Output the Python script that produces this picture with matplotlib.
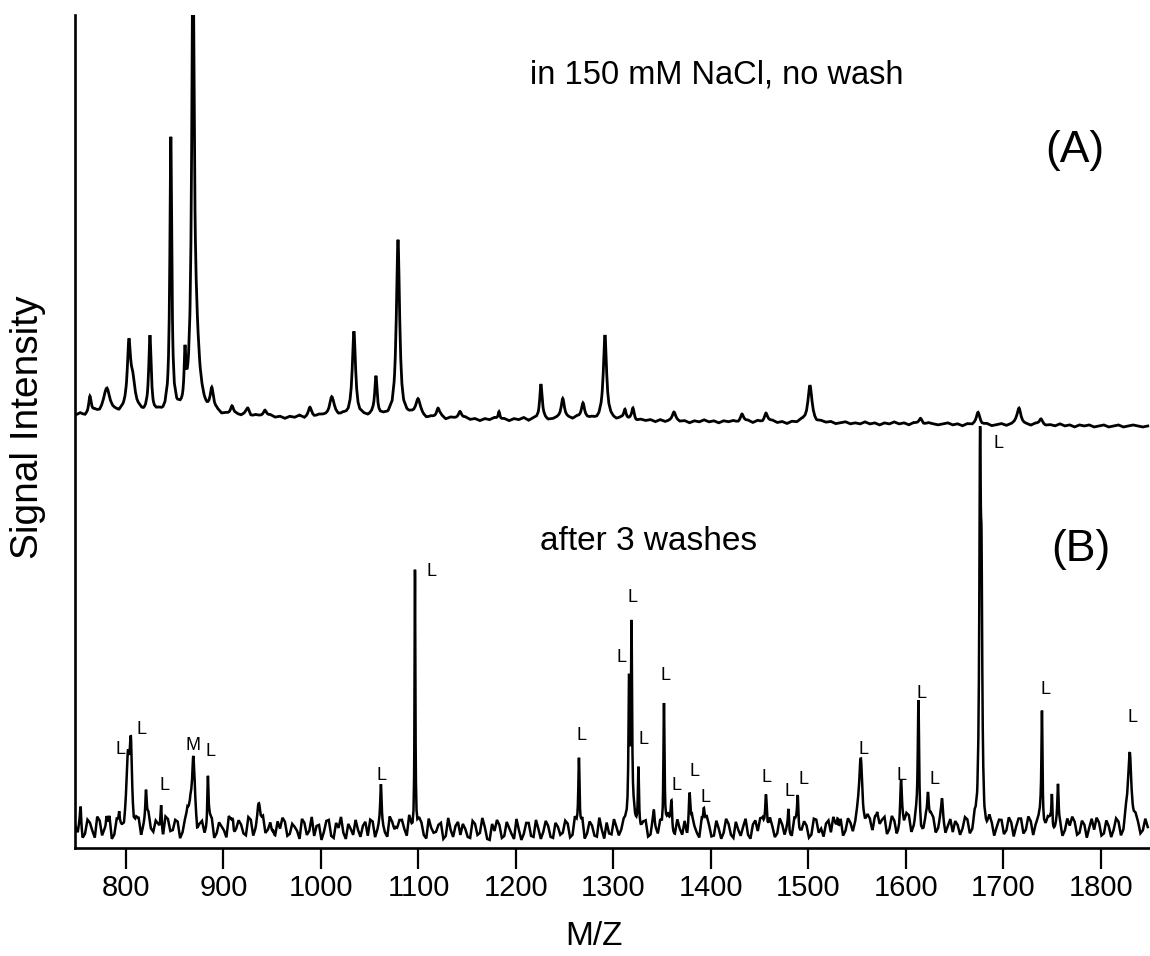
import numpy as np
import matplotlib
matplotlib.use("Agg")
import matplotlib.pyplot as plt

plt.rcParams['font.family'] = ['Liberation Sans', 'DejaVu Sans']

# ---------------- data ----------------
# m/z sampling grid of the noise readings (step 5, 748 .. 1848)
noise_start, noise_step = 748, 5

# spectrum A (150 mM NaCl, no wash): baseline/noise level relative to its own zero
A_noise = [12, 14, 11, 13, 15, 12, 14, 11, 13, 12, 14, 13, 11, 14, 12, 13, 11, 14, 12, 13,
           11, 13, 12, 14, 11, 12, 13, 11, 12, 14, 11, 12, 10, 12, 11, 13, 10, 12, 11, 10,
           12, 10, 11, 9, 11, 10, 12, 9, 11, 10, 12, 11, 9, 11, 10, 12, 10, 11, 9, 11,
           10, 12, 9, 11, 10, 9, 11, 8, 10, 11, 9, 10, 8, 10, 9, 11, 8, 10, 9, 8,
           10, 8, 9, 7, 9, 8, 10, 8, 9, 7, 9, 8, 10, 7, 9, 8, 9, 7, 8, 9,
           7, 9, 8, 10, 7, 8, 9, 7, 8, 6, 8, 7, 9, 7, 8, 6, 8, 7, 8, 6,
           8, 6, 7, 8, 6, 7, 5, 7, 6, 8, 6, 7, 5, 7, 6, 7, 5, 6, 7, 5,
           7, 5, 6, 7, 5, 6, 4, 6, 5, 7, 5, 6, 4, 6, 5, 6, 4, 5, 6, 4,
           5, 4, 6, 4, 5, 3, 5, 4, 6, 4, 5, 3, 5, 4, 3, 5, 4, 3, 4, 5,
           3, 4, 2, 4, 3, 5, 3, 4, 2, 3, 4, 2, 3, 4, 2, 3, 2, 4, 3, 2,
           3, 2, 4, 2, 3, 1, 3, 2, 3, 1, 2, 3, 1, 2, 3, 1, 2, 3, 2, 1,
           2]
A_peak_mz = [763, 780.5, 803, 807, 824.6, 846, 860.5, 868.7, 872, 888, 908.7, 925, 942.6,
             988.7, 1011, 1033.8, 1056.4, 1079, 1099.5, 1120, 1142.6, 1182.6, 1225.6, 1248,
             1268.7, 1291.3, 1311.8, 1320, 1362, 1431.8, 1456.4, 1501.5, 1615, 1674, 1716,
             1738.5]
A_peak_amp = [17, 26, 64, 30, 77, 275, 47, 440, 60, 22, 10, 7, 7,
              9, 20, 85, 40, 177, 18, 9, 8, 8, 35, 22,
              17, 86, 10, 12, 8, 8, 9, 37, 6, 11, 17,
              6]
A_peak_w = [1.5, 4, 2, 3, 1.5, 1.2, 1.0, 1.5, 4, 2, 2, 2, 2,
            2, 3, 2, 1.5, 2, 3, 2, 2, 1, 1.5, 2,
            2, 2, 1.5, 1.5, 2, 2, 2, 2.5, 2, 2, 2.5,
            2]

# spectrum B (after 3 washes): baseline/noise level on the main grid ...
B_noise = [22, 30, 14, 25, 10, 27, 18, 31, 12, 24, 16, 29, 11, 26, 20, 33, 15, 22, 9, 28,
           17, 25, 13, 30, 19, 11, 24, 16, 28, 14, 21, 10, 26, 18, 23, 12, 27, 15, 20, 13,
           24, 11, 19, 26, 14, 21, 9, 25, 17, 12, 23, 16, 28, 10, 20, 15, 24, 13, 18, 22,
           12, 26, 17, 21, 10, 23, 15, 27, 11, 19, 14, 24, 9, 20, 16, 25, 12, 18, 22, 13,
           19, 10, 24, 15, 21, 8, 17, 23, 12, 20, 9, 18, 14, 25, 11, 19, 16, 22, 10, 21,
           15, 24, 12, 19, 27, 14, 22, 11, 18, 25, 13, 20, 16, 23, 10, 21, 17, 26, 12, 19,
           24, 14, 21, 11, 18, 25, 13, 20, 9, 17, 22, 12, 19, 15, 24, 10, 18, 21, 13, 23,
           16, 26, 12, 20, 14, 23, 18, 11, 25, 17, 22, 13, 28, 19, 24, 15, 21, 27, 16, 23,
           20, 29, 17, 25, 14, 22, 30, 18, 26, 15, 23, 31, 19, 27, 16, 24, 29, 18, 25, 21,
           15, 22, 18, 26, 13, 20, 24, 16, 22, 19, 27, 17, 25, 21, 29, 18, 26, 22, 30, 20,
           27, 19, 24, 17, 22, 26, 15, 23, 20, 18, 25, 14, 21, 17, 24, 12, 26, 19, 22, 16,
           20]
# ... and half-way between the main grid points (750.5 .. 1845.5)
B_noise_mid = [15, 9, 28, 17, 31, 12, 22, 8, 27, 19, 33, 14, 24, 10, 29, 18, 26, 13, 30, 16,
               27, 8, 24, 15, 32, 20, 12, 29, 9, 25, 17, 31, 11, 27, 14, 30, 10, 24, 28, 17,
               9, 26, 30, 12, 24, 17, 29, 13, 31, 22, 8, 27, 12, 25, 31, 9, 19, 28, 11, 26,
               28, 10, 25, 14, 30, 9, 26, 18, 31, 8, 27, 12, 29, 15, 23, 9, 30, 11, 26, 24,
               11, 27, 13, 30, 9, 24, 28, 10, 26, 14, 29, 8, 25, 12, 28, 9, 27, 11, 25, 13,
               27, 10, 29, 13, 8, 26, 12, 30, 9, 14, 28, 11, 25, 9, 27, 13, 24, 10, 28, 12,
               10, 29, 8, 27, 12, 9, 28, 14, 26, 30, 11, 27, 9, 29, 13, 26, 12, 29, 9, 27,
               28, 11, 27, 10, 29, 12, 9, 28, 14, 26, 10, 29, 15, 11, 27, 30, 12, 11, 28, 13,
               30, 14, 28, 12, 31, 27, 13, 31, 12, 29, 33, 14, 30, 12, 29, 32, 14, 30, 13, 28,
               26, 12, 29, 11, 27, 30, 12, 28, 10, 27, 13, 30, 11, 29, 14, 31, 12, 28, 15, 29,
               12, 28, 11, 29, 31, 13, 27, 10, 29, 30, 12, 27, 10, 28, 9, 29, 11, 27, 12, 28]
B_peak_mz = [753.5, 780, 793, 802, 805, 820.5, 836, 866, 869, 884, 909.7, 936.4, 950.8,
             1061.5, 1076, 1096.4, 1264.6, 1316, 1318.5, 1325.6, 1341.5, 1351.8, 1359.5,
             1378, 1392.8, 1456.4, 1479.5, 1489, 1530, 1553.8, 1568, 1594.9, 1612.8,
             1622.6, 1637, 1676, 1677.5, 1739.5, 1749.7, 1755.9, 1829.7]
B_peak_amp = [15, 10, 10, 50, 85, 28, 30, 25, 60, 50, 12, 22, 8,
              40, 10, 268, 75, 150, 200, 65, 12, 132, 33,
              42, 22, 42, 26, 32, 15, 65, 15, 42, 120,
              30, 22, 340, 200, 116, 36, 36, 80]
B_peak_w = [0.6, 0.6, 0.6, 1.5, 1.5, 0.8, 0.8, 2, 1.5, 0.7, 1, 2, 1,
            0.8, 2, 0.5, 0.8, 0.8, 0.7, 0.7, 0.7, 0.7, 1,
            1, 1, 1.2, 0.8, 0.8, 1, 2, 1.5, 1, 0.8,
            1, 1, 0.9, 0.9, 0.7, 0.7, 0.7, 2]

# peak annotations in spectrum B: (text, m/z, height)
B_label_text = ['L', 'L', 'L', 'M', 'L', 'L', 'L', 'L', 'L', 'L', 'L', 'L', 'L', 'L', 'L',
                'L', 'L', 'L', 'L', 'L', 'L', 'L', 'L', 'L', 'L']
B_label_mz = [794.5, 815.4, 839, 868.4, 886.9, 1062.3, 1113.5, 1267.2, 1308.7, 1320,
              1330.3, 1353.8, 1365.1, 1382.6, 1394.9, 1457.4, 1481, 1494.4, 1556.4,
              1595.9, 1616.4, 1629.7, 1694.4, 1743.6, 1832.8]
B_label_y = [98, 118, 63, 102, 96, 73, 276, 112, 191, 251,
             108, 173, 63, 76, 51, 71, 56, 68, 98,
             73, 155, 68, 405, 158, 130]

x_ticks = [800, 900, 1000, 1100, 1200, 1300, 1400, 1500, 1600, 1700, 1800]

# ---------------- build traces ----------------
A_noise_mz = noise_start + noise_step * np.arange(len(A_noise))
B_noise_mz_all = np.concatenate([noise_start + noise_step * np.arange(len(B_noise)),
                                 noise_start + noise_step * (np.arange(len(B_noise_mid)) + 0.5)])
B_noise_all = np.concatenate([B_noise, B_noise_mid])
order = np.argsort(B_noise_mz_all)
B_noise_mz_all = B_noise_mz_all[order]
B_noise_all = B_noise_all[order]


def trace(nmz, noise, pmz, pamp, pw):
    offs = np.array([-8, -5, -3, -2, -1.4, -0.9, -0.5, -0.2, 0, 0.2, 0.5, 0.9, 1.4, 2, 3, 5, 8])
    grid = [nmz]
    for m, w in zip(pmz, pw):
        grid.append(m + offs * w)
    x = np.unique(np.concatenate(grid))
    x = x[(x >= nmz[0]) & (x <= nmz[-1])]
    y = np.interp(x, nmz, np.asarray(noise, float))
    for m, a, w in zip(pmz, pamp, pw):
        y = y + a / (1.0 + ((x - m) / w) ** 2)
    return x, y


A_OFFSET = 420
xa, ya = trace(A_noise_mz, A_noise, A_peak_mz, A_peak_amp, A_peak_w)
xb, yb = trace(B_noise_mz_all, B_noise_all, B_peak_mz, B_peak_amp, B_peak_w)

# ---------------- figure ----------------
W, H = 1150, 956
fig = plt.figure(figsize=(W / 100, H / 100), dpi=100)
ax = fig.add_axes([75 / W, 1 - 848 / H, 1075 / W, 833 / H])

ax.plot(xa, ya + A_OFFSET, color='black', lw=2.0, solid_joinstyle='miter')
ax.plot(xb, yb, color='black', lw=1.8, solid_joinstyle='miter')

ax.set_xlim(747.7, 1850.3)
ax.set_ylim(0, 833)

for s in ['top', 'right']:
    ax.spines[s].set_visible(False)
for s in ['left', 'bottom']:
    ax.spines[s].set_linewidth(1.9)
ax.set_yticks([])
ax.set_xticks(x_ticks)
ax.set_xticklabels([str(t) for t in x_ticks])
ax.tick_params(axis='x', direction='out', length=15, width=1.6, pad=4, labelsize=21)

ax.set_xlabel('M/Z', fontsize=24)
ax.xaxis.set_label_coords(0.483, -0.106)
ax.xaxis.label.set_va('center')
ax.set_ylabel('Signal Intensity', fontsize=28)
ax.yaxis.set_label_coords(-0.0437, 0.505)
ax.yaxis.label.set_va('center')

ax.text(1214, 773, 'in 150 mM NaCl, no wash', fontsize=23.5, ha='left', va='center')
ax.text(1773, 698, '(A)', fontsize=32, ha='center', va='center')
ax.text(1224.6, 306, 'after 3 washes', fontsize=24, ha='left', va='center')
ax.text(1779.5, 298, '(B)', fontsize=32, ha='center', va='center')

for t, m, yv in zip(B_label_text, B_label_mz, B_label_y):
    ax.text(m, yv, t, fontsize=13, ha='center', va='center')

fig.savefig('out.png', dpi=100)
